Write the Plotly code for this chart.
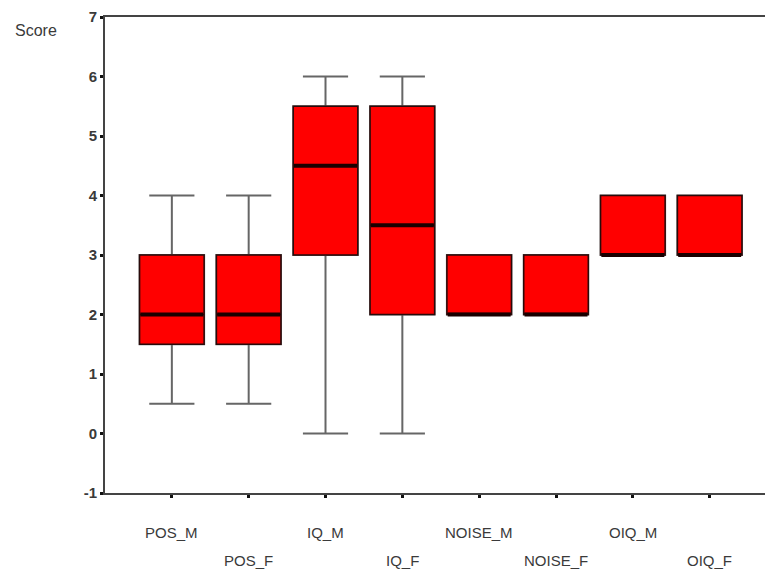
import plotly.graph_objects as go

# Score distributions per group (precomputed box statistics)
categories = ["POS_M", "POS_F", "IQ_M", "IQ_F", "NOISE_M", "NOISE_F", "OIQ_M", "OIQ_F"]
lower_whisker = [0.5, 0.5, 0.0, 0.0, 2.0, 2.0, 3.0, 3.0]
q1 = [1.5, 1.5, 3.0, 2.0, 2.0, 2.0, 3.0, 3.0]
median = [2.0, 2.0, 4.5, 3.5, 2.0, 2.0, 3.0, 3.0]
q3 = [3.0, 3.0, 5.5, 5.5, 3.0, 3.0, 4.0, 4.0]
upper_whisker = [4.0, 4.0, 6.0, 6.0, 3.0, 3.0, 4.0, 4.0]
y_ticks = [-1, 0, 1, 2, 3, 4, 5, 6, 7]

pos = list(range(len(categories)))
box_w = 0.84
font = "Liberation Sans, Arial, sans-serif"

fig = go.Figure()
# Grey whiskers and caps
fig.add_trace(go.Box(
    x=pos, q1=q1, median=median, q3=q3,
    lowerfence=lower_whisker, upperfence=upper_whisker,
    width=box_w, whiskerwidth=0.7,
    fillcolor="#ff0000",
    line=dict(color="#666666", width=2),
    boxpoints=False, showlegend=False, hoverinfo="skip",
))
# Boxes with a dark outline drawn over the whiskers
fig.add_trace(go.Box(
    x=pos, q1=q1, median=median, q3=q3,
    lowerfence=q1, upperfence=q3,
    width=box_w, whiskerwidth=0,
    fillcolor="#ff0000",
    line=dict(color="#2a0a0a", width=1.5),
    boxpoints=False, showlegend=False, hoverinfo="skip",
))

# Thick dark median bars
for x, m in zip(pos, median):
    fig.add_trace(go.Scatter(
        x=[x - box_w / 2 + 0.01, x + box_w / 2 - 0.01], y=[m, m],
        mode="lines", line=dict(color="#1a0000", width=4),
        showlegend=False, hoverinfo="skip",
    ))

# Staggered category labels below the axis
for i, (x, name) in enumerate(zip(pos, categories)):
    fig.add_annotation(
        x=x, xref="x", y=0, yref="paper",
        text=name, showarrow=False,
        yanchor="middle", yshift=-39 if i % 2 == 0 else -67,
        font=dict(family=font, size=15, color="#3a3a3a"),
    )

fig.add_annotation(
    x=0, xref="paper", y=1, yref="paper", text="Score", showarrow=False,
    xanchor="center", yanchor="middle", xshift=-69, yshift=-13,
    font=dict(family=font, size=16, color="#3a3a3a"),
)

fig.update_layout(
    width=765, height=575,
    margin=dict(l=105, r=0, t=17, b=82),
    paper_bgcolor="white", plot_bgcolor="white",
    font=dict(family=font, color="#333333"),
    boxmode="overlay",
    xaxis=dict(
        range=[-0.87, 7.72], tickvals=pos, showticklabels=False,
        ticks="outside", ticklen=3, tickwidth=3, tickcolor="#111111",
        showline=True, linecolor="#444444", linewidth=2, mirror=True,
        showgrid=False, zeroline=False,
    ),
    yaxis=dict(
        range=[-1, 7], tickvals=y_ticks, ticktext=[str(v) for v in y_ticks],
        ticks="outside", ticklen=3, tickwidth=3, tickcolor="#111111",
        tickfont=dict(family=font, size=15, color="#3a3a3a", weight="bold"),
        showline=True, linecolor="#444444", linewidth=2,
        showgrid=False, zeroline=False,
    ),
)

fig.write_html("out.html")
